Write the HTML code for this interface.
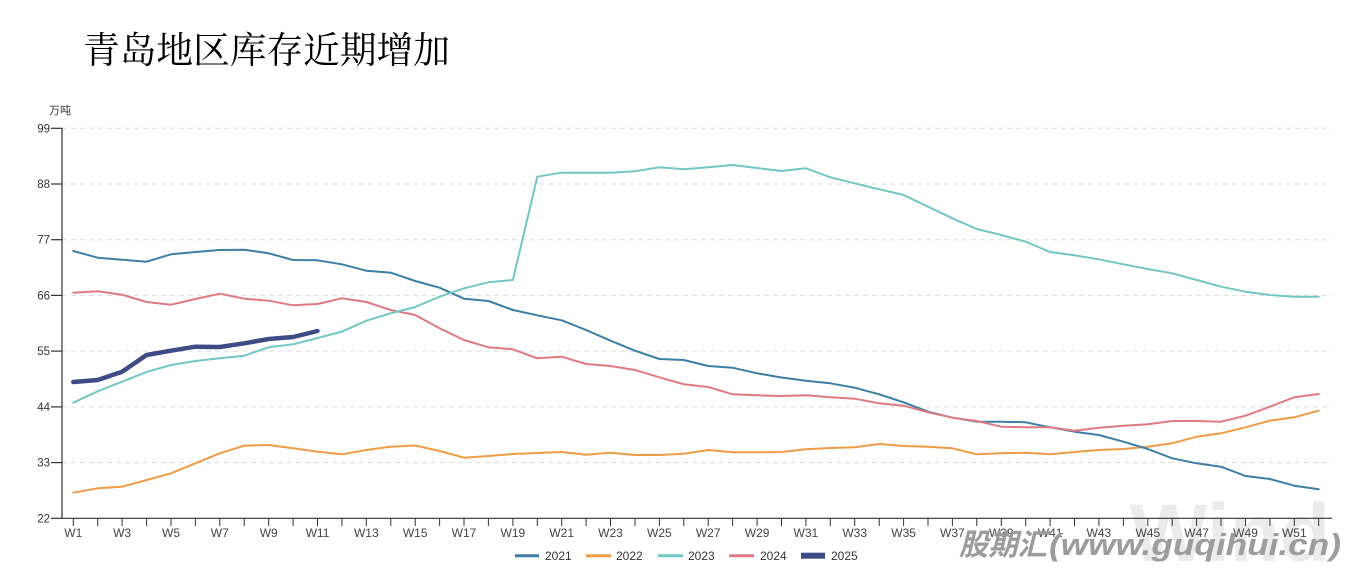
<!DOCTYPE html>
<html><head><meta charset="utf-8"><style>
html,body{margin:0;padding:0;background:#fff;}
svg{display:block;}
text{font-family:"Liberation Sans","Noto Sans CJK SC",sans-serif;}
</style></head><body>
<svg width="1360" height="575" viewBox="0 0 1360 575" xmlns="http://www.w3.org/2000/svg">
<rect width="1360" height="575" fill="#fff"/>
<!-- title -->
<text x="83" y="63" font-size="36.7" fill="#000" style="font-family:'Liberation Serif','Noto Serif CJK SC',serif;">青岛地区库存近期增加</text>
<!-- watermark Wind -->
<text x="1130" y="561" font-size="82" font-weight="bold" fill="#ebebeb" textLength="200" lengthAdjust="spacingAndGlyphs">Wind</text>
<!-- unit -->
<text x="49" y="114" font-size="11" fill="#333" style="font-family:'Liberation Sans','Noto Sans CJK SC',sans-serif;">万吨</text>
<!-- gridlines -->
<g stroke="#dcdcdc" stroke-width="1" stroke-dasharray="5,4">
<line x1="62" y1="128.3" x2="1332" y2="128.3"/>
<line x1="62" y1="184.0" x2="1332" y2="184.0"/>
<line x1="62" y1="239.7" x2="1332" y2="239.7"/>
<line x1="62" y1="295.4" x2="1332" y2="295.4"/>
<line x1="62" y1="351.1" x2="1332" y2="351.1"/>
<line x1="62" y1="406.9" x2="1332" y2="406.9"/>
<line x1="62" y1="462.6" x2="1332" y2="462.6"/>
</g>
<!-- y axis -->
<g stroke="#333" stroke-width="1.2">
<line x1="62" y1="128" x2="62" y2="518.3"/>
<line x1="51" y1="128.3" x2="62" y2="128.3"/>
<line x1="51" y1="184.0" x2="62" y2="184.0"/>
<line x1="51" y1="239.7" x2="62" y2="239.7"/>
<line x1="51" y1="295.4" x2="62" y2="295.4"/>
<line x1="51" y1="351.1" x2="62" y2="351.1"/>
<line x1="51" y1="406.9" x2="62" y2="406.9"/>
<line x1="51" y1="462.6" x2="62" y2="462.6"/>
<line x1="51" y1="518.3" x2="62" y2="518.3"/>
<line x1="62" y1="518.3" x2="1332" y2="518.3"/>
</g>
<g font-size="11.5" fill="#333" text-anchor="end">
<text x="50" y="132.3">99</text>
<text x="50" y="188.0">88</text>
<text x="50" y="243.7">77</text>
<text x="50" y="299.4">66</text>
<text x="50" y="355.1">55</text>
<text x="50" y="410.9">44</text>
<text x="50" y="466.6">33</text>
<text x="50" y="522.3">22</text>
</g>
<!-- x ticks -->
<g stroke="#333" stroke-width="1">
<line x1="73.3" y1="518" x2="73.3" y2="526"/><line x1="97.7" y1="518" x2="97.7" y2="526"/><line x1="122.1" y1="518" x2="122.1" y2="526"/><line x1="146.6" y1="518" x2="146.6" y2="526"/><line x1="171.0" y1="518" x2="171.0" y2="526"/><line x1="195.4" y1="518" x2="195.4" y2="526"/><line x1="219.8" y1="518" x2="219.8" y2="526"/><line x1="244.2" y1="518" x2="244.2" y2="526"/><line x1="268.7" y1="518" x2="268.7" y2="526"/><line x1="293.1" y1="518" x2="293.1" y2="526"/><line x1="317.5" y1="518" x2="317.5" y2="526"/><line x1="341.9" y1="518" x2="341.9" y2="526"/><line x1="366.3" y1="518" x2="366.3" y2="526"/><line x1="390.8" y1="518" x2="390.8" y2="526"/><line x1="415.2" y1="518" x2="415.2" y2="526"/><line x1="439.6" y1="518" x2="439.6" y2="526"/><line x1="464.0" y1="518" x2="464.0" y2="526"/><line x1="488.4" y1="518" x2="488.4" y2="526"/><line x1="512.9" y1="518" x2="512.9" y2="526"/><line x1="537.3" y1="518" x2="537.3" y2="526"/><line x1="561.7" y1="518" x2="561.7" y2="526"/><line x1="586.1" y1="518" x2="586.1" y2="526"/><line x1="610.5" y1="518" x2="610.5" y2="526"/><line x1="635.0" y1="518" x2="635.0" y2="526"/><line x1="659.4" y1="518" x2="659.4" y2="526"/><line x1="683.8" y1="518" x2="683.8" y2="526"/><line x1="708.2" y1="518" x2="708.2" y2="526"/><line x1="732.6" y1="518" x2="732.6" y2="526"/><line x1="757.1" y1="518" x2="757.1" y2="526"/><line x1="781.5" y1="518" x2="781.5" y2="526"/><line x1="805.9" y1="518" x2="805.9" y2="526"/><line x1="830.3" y1="518" x2="830.3" y2="526"/><line x1="854.7" y1="518" x2="854.7" y2="526"/><line x1="879.2" y1="518" x2="879.2" y2="526"/><line x1="903.6" y1="518" x2="903.6" y2="526"/><line x1="928.0" y1="518" x2="928.0" y2="526"/><line x1="952.4" y1="518" x2="952.4" y2="526"/><line x1="976.8" y1="518" x2="976.8" y2="526"/><line x1="1001.3" y1="518" x2="1001.3" y2="526"/><line x1="1025.7" y1="518" x2="1025.7" y2="526"/><line x1="1050.1" y1="518" x2="1050.1" y2="526"/><line x1="1074.5" y1="518" x2="1074.5" y2="526"/><line x1="1098.9" y1="518" x2="1098.9" y2="526"/><line x1="1123.4" y1="518" x2="1123.4" y2="526"/><line x1="1147.8" y1="518" x2="1147.8" y2="526"/><line x1="1172.2" y1="518" x2="1172.2" y2="526"/><line x1="1196.6" y1="518" x2="1196.6" y2="526"/><line x1="1221.0" y1="518" x2="1221.0" y2="526"/><line x1="1245.5" y1="518" x2="1245.5" y2="526"/><line x1="1269.9" y1="518" x2="1269.9" y2="526"/><line x1="1294.3" y1="518" x2="1294.3" y2="526"/><line x1="1318.7" y1="518" x2="1318.7" y2="526"/>
</g>
<g font-size="12" fill="#444" text-anchor="middle">
<text x="73.3" y="537">W1</text><text x="122.1" y="537">W3</text><text x="171.0" y="537">W5</text><text x="219.8" y="537">W7</text><text x="268.7" y="537">W9</text><text x="317.5" y="537">W11</text><text x="366.3" y="537">W13</text><text x="415.2" y="537">W15</text><text x="464.0" y="537">W17</text><text x="512.9" y="537">W19</text><text x="561.7" y="537">W21</text><text x="610.5" y="537">W23</text><text x="659.4" y="537">W25</text><text x="708.2" y="537">W27</text><text x="757.1" y="537">W29</text><text x="805.9" y="537">W31</text><text x="854.7" y="537">W33</text><text x="903.6" y="537">W35</text><text x="952.4" y="537">W37</text><text x="1001.3" y="537">W39</text><text x="1050.1" y="537">W41</text><text x="1098.9" y="537">W43</text><text x="1147.8" y="537">W45</text><text x="1196.6" y="537">W47</text><text x="1245.5" y="537">W49</text><text x="1294.3" y="537">W51</text>
</g>
<!-- series -->
<g fill="none" stroke-linejoin="round" stroke-linecap="round">
<!-- 2022 -->
<polyline stroke="#ee9c45" stroke-width="2" points="73.3,492.7 97.7,488.3 122.1,486.7 146.6,480 171.0,473.3 195.4,463.3 219.8,453.3 244.2,445.7 268.7,445 293.1,448.3 317.5,451.7 341.9,454.3 366.3,450 390.8,446.7 415.2,445.5 439.6,451 464.0,457.7 488.4,456 512.9,454 537.3,453 561.7,452 586.1,454.7 610.5,452.7 635.0,455 659.4,455 683.8,453.7 708.2,450 732.6,452.3 757.1,452.3 781.5,452 805.9,449.3 830.3,448 854.7,447.3 879.2,444 903.6,446 928.0,446.7 952.4,448.3 976.8,454.3 1001.3,453.3 1025.7,452.7 1050.1,454.3 1074.5,452 1098.9,450 1123.4,449 1147.8,446.7 1172.2,443.3 1196.6,436.7 1221.0,433.3 1245.5,427.3 1269.9,420.7 1294.3,417.3 1318.7,410.7"/>
<!-- 2021 -->
<polyline stroke="#3b7ea6" stroke-width="2" points="73.3,251 97.7,257.7 122.1,259.7 146.6,261.7 171.0,254.3 195.4,252 219.8,250 244.2,249.7 268.7,253.3 293.1,260 317.5,260.3 341.9,264.3 366.3,270.7 390.8,272.7 415.2,281 439.6,287.7 464.0,298.7 488.4,301 512.9,310 537.3,315.3 561.7,320.3 586.1,330 610.5,340.7 635.0,350.7 659.4,359 683.8,360 708.2,366 732.6,367.7 757.1,373.3 781.5,377.5 805.9,380.7 830.3,383.3 854.7,387.7 879.2,394.3 903.6,402.3 928.0,411.7 952.4,417.7 976.8,421.7 1001.3,421.7 1025.7,422.3 1050.1,427.3 1074.5,431.7 1098.9,435 1123.4,441.7 1147.8,449 1172.2,458.3 1196.6,463.3 1221.0,466.7 1245.5,476 1269.9,479 1294.3,485.7 1318.7,489.3"/>
<!-- 2024 -->
<polyline stroke="#e07a80" stroke-width="2" points="73.3,292.7 97.7,291.3 122.1,294.7 146.6,302 171.0,304.7 195.4,299 219.8,293.7 244.2,298.7 268.7,300.7 293.1,305.3 317.5,304 341.9,298.3 366.3,302 390.8,310 415.2,315 439.6,328.3 464.0,340 488.4,347.3 512.9,349.3 537.3,358.3 561.7,356.7 586.1,364 610.5,366 635.0,370 659.4,377.3 683.8,384.3 708.2,387 732.6,394.3 757.1,395.3 781.5,396 805.9,395.3 830.3,397.3 854.7,398.7 879.2,403.3 903.6,405.7 928.0,412.3 952.4,417.7 976.8,421 1001.3,426.7 1025.7,427.3 1050.1,427.3 1074.5,430.7 1098.9,427.7 1123.4,425.7 1147.8,424.3 1172.2,421 1196.6,421 1221.0,421.7 1245.5,415.7 1269.9,406.7 1294.3,397.3 1318.7,394"/>
<!-- 2023 -->
<polyline stroke="#72c6c4" stroke-width="2" points="73.3,402.7 97.7,391.3 122.1,381.7 146.6,372 171.0,365 195.4,361 219.8,358.3 244.2,355.7 268.7,347.3 293.1,344.3 317.5,338 341.9,331.7 366.3,320.7 390.8,313.3 415.2,307 439.6,296.7 464.0,288.3 488.4,282.3 512.9,280 537.3,176.7 561.7,172.7 586.1,172.7 610.5,172.7 635.0,171.3 659.4,167.3 683.8,169.3 708.2,167.3 732.6,165 757.1,168 781.5,171 805.9,168.3 830.3,177.3 854.7,183.3 879.2,189.3 903.6,195 928.0,206.7 952.4,218.3 976.8,229 1001.3,235 1025.7,241.7 1050.1,252 1074.5,255.3 1098.9,259.3 1123.4,264.3 1147.8,269 1172.2,273.3 1196.6,280 1221.0,286.7 1245.5,291.7 1269.9,295 1294.3,296.7 1318.7,296.7"/>
<!-- 2025 -->
<polyline stroke="#3e4c86" stroke-width="4.5" points="73.3,382 97.7,380 122.1,371.7 146.6,355 171.0,350.7 195.4,346.7 219.8,347 244.2,343.3 268.7,339 293.1,337 317.5,331"/>
</g>
<!-- legend -->
<g font-size="12" fill="#333">
<line x1="515" y1="555.7" x2="539" y2="555.7" stroke="#3b7ea6" stroke-width="3"/>
<text x="545" y="560">2021</text>
<line x1="586" y1="555.7" x2="611" y2="555.7" stroke="#ee9c45" stroke-width="3"/>
<text x="616" y="560">2022</text>
<line x1="658" y1="555.7" x2="683" y2="555.7" stroke="#72c6c4" stroke-width="3"/>
<text x="688" y="560">2023</text>
<line x1="729" y1="555.7" x2="754" y2="555.7" stroke="#e07a80" stroke-width="3"/>
<text x="760" y="560">2024</text>
<rect x="801" y="552.7" width="24" height="6" fill="#3e4c86"/>
<text x="831" y="560">2025</text>
</g>
<!-- watermark text -->
<g fill="#9c9c9c" font-weight="bold" font-style="italic">
<text x="959" y="555" font-size="30" textLength="88" lengthAdjust="spacingAndGlyphs" style="font-family:'Liberation Sans','Noto Sans CJK SC',sans-serif;">股期汇</text>
<text x="1049" y="555" font-size="31" textLength="292" lengthAdjust="spacingAndGlyphs">(www.guqihui.cn)</text>
</g>
</svg>
</body></html>
